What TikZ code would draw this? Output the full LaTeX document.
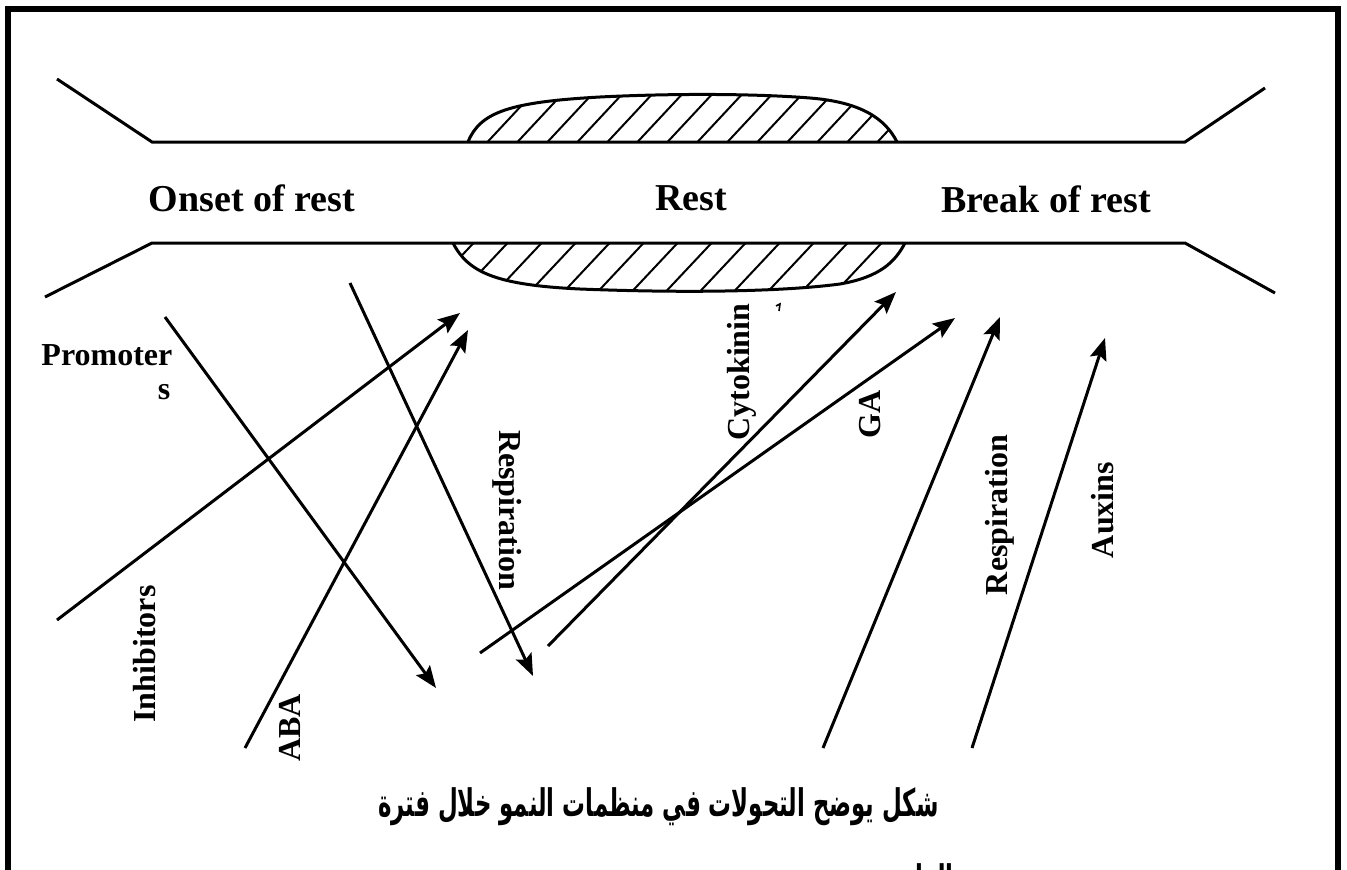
\documentclass[tikz,border=0pt]{standalone}
\usepackage{fontspec}
\setmainfont{Liberation Serif}
\newfontfamily\arabicfont[Script=Arabic]{DejaVu Sans}
\TeXXeTstate=1
\usetikzlibrary{arrows.meta}
\begin{document}
\begin{tikzpicture}[x=1pt,y=-1pt,line width=3pt,
  arr/.style={-{Stealth[length=22pt,width=17pt,inset=4pt]},line width=3pt},
  big/.style={font=\bfseries\fontsize{38}{44}\selectfont,inner sep=0pt},
  lab/.style={font=\bfseries\fontsize{32}{38}\selectfont,inner sep=0pt},
  hatch/.style={line width=2pt},
  arcaption/.style={font=\arabicfont\bfseries\fontsize{38}{42}\selectfont,inner sep=0pt}]
\useasboundingbox (0,0) rectangle (1347,870);
\fill[white] (0,0) rectangle (1347,870);
\begin{scope}
\clip (0,0) rectangle (1347,870);
% frame
\draw[line width=6pt] (8,900) -- (8,9) -- (1338,9) -- (1338,900);
% channel
\coordinate (tl0) at (57,79);
\coordinate (tl1) at (152,142);
\coordinate (tr1) at (1185,142);
\coordinate (tr0) at (1265,88);
\coordinate (bl0) at (45,297);
\coordinate (bl1) at (152,243);
\coordinate (br1) at (1185,243);
\coordinate (br0) at (1275,293);
\draw (tl0) -- (tl1) -- (tr1) -- (tr0);
\draw (bl0) -- (bl1) -- (br1) -- (br0);
% top blob
\begin{scope}
\clip (468,142) .. controls (480,112) and (510,102) .. (600,97)
  .. controls (680,93) and (760,94) .. (810,98)
  .. controls (860,102) and (885,118) .. (897,142) -- cycle;
\foreach \x in {420,450,...,930} \draw[hatch] (\x,150) -- ++(70,-75);
\end{scope}
\draw (468,142) .. controls (480,112) and (510,102) .. (600,97)
  .. controls (680,93) and (760,94) .. (810,98)
  .. controls (860,102) and (885,118) .. (897,142);
% bottom blob
\begin{scope}
\clip (453,243) .. controls (468,272) and (495,285) .. (580,289)
  .. controls (680,293) and (780,292) .. (840,284)
  .. controls (880,277) and (895,262) .. (905,243) -- cycle;
\foreach \x in {420,454,...,940} \draw[hatch] (\x,300) -- ++(62,-66);
\end{scope}
\draw (453,243) .. controls (468,272) and (495,285) .. (580,289)
  .. controls (680,293) and (780,292) .. (840,284)
  .. controls (880,277) and (895,262) .. (905,243);
% stage labels
\node[big] (onset) at (252,198) {Onset of rest};
\node[big] (rest) at (691,198) {Rest};
\node[big] (break) at (1046,199) {Break of rest};
% arrows
\coordinate (inhA) at (57,620);   \coordinate (inhB) at (460,313);
\coordinate (abaA) at (245,748);  \coordinate (abaB) at (468,330);
\coordinate (proA) at (165,317);  \coordinate (proB) at (436,688);
\coordinate (reaA) at (350,283);  \coordinate (reaB) at (533,676);
\coordinate (gaA) at (480,653);   \coordinate (gaB) at (955,318);
\coordinate (cytA) at (548,646);  \coordinate (cytB) at (896,292);
\coordinate (rebA) at (823,748);  \coordinate (rebB) at (1000,317);
\coordinate (auxA) at (972,748);  \coordinate (auxB) at (1105,338);
\draw[arr] (inhA) -- (inhB);
\draw[arr] (abaA) -- (abaB);
\draw[arr] (proA) -- (proB);
\draw[arr] (reaA) -- (reaB);
\draw[arr] (gaA) -- (gaB);
\draw[arr] (cytA) -- (cytB);
\draw[arr] (rebA) -- (rebB);
\draw[arr] (auxA) -- (auxB);
% arrow labels
\node[lab,anchor=base west] (prom) at (40,365) {Promoter};
\node[lab] (proms) at (164,392) {s};
\node[lab,rotate=90] (inh) at (145,654) {Inhibitors};
\node[lab,rotate=90] (aba) at (290,728) {ABA};
\node[lab,rotate=-90] (resl) at (507,510) {Respiration};
\node[lab,rotate=90] (cyt) at (742,372) {Cytokinin};
\node[lab,rotate=90] (ga) at (870,414) {GA};
\node[lab,rotate=90] (resr) at (1000,515) {Respiration};
\node[lab,rotate=90] (aux) at (1103,510) {Auxins};
% stray mark
\coordinate (mk) at (776,306);
\draw[line width=1.6pt] (mk) -- ++(4,-2) -- ++(-1,7);
% caption
\node[arcaption,anchor=base east] (cap1) at (940,816) {\scalebox{0.6}[1]{\beginR شكل يوضح التحولات في منظمات النمو خلال فترة\endR}};
\node[arcaption,anchor=base east] (cap2) at (955,892) {\scalebox{0.6}[1]{\beginR الراحة\endR}};
\end{scope}
\end{tikzpicture}
\end{document}
